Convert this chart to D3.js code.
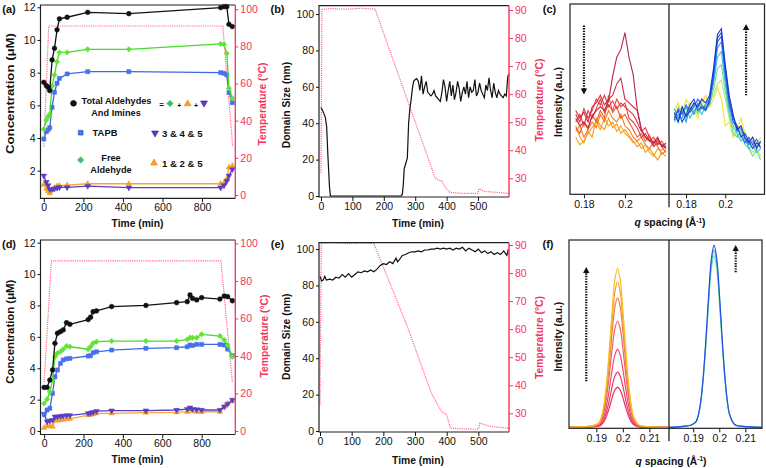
<!DOCTYPE html>
<html><head><meta charset="utf-8">
<script src="https://cdn.jsdelivr.net/npm/d3@7"></script>
<style>
body{margin:0;background:#fff;}
svg{display:block;font-family:"Liberation Sans",Arial,Helvetica,sans-serif;}
</style></head><body>
<svg id="fig" width="766" height="468"></svg>
<script>
// ================= DATA =================
// (a) concentrations vs time
const timeA   = [0,13,22,30,42,54,67,79,118,222,430,894,911,925,936,953];
const totalA  = [7.41,7.2,7.1,6.9,8.78,9.49,10.62,11.29,11.39,11.69,11.61,11.98,12.04,12.04,10.96,10.82];
const freeA   = [4.53,5.1,5.3,5.45,7.18,7.86,8.67,9.24,9.24,9.43,9.43,9.76,9.73,9.18,7.04,6.43];
const tapbA   = [3.94,4.39,4.5,4.63,5.88,6.8,7.35,7.65,7.92,8.06,8.06,8.0,7.96,7.86,6.78,6.16];
const s125A   = [1.15,0.88,0.75,0.62,0.82,0.95,1.05,1.08,1.12,1.2,1.2,1.2,1.25,1.49,2.2,2.3];
const s345A   = [1.69,1.3,1.1,0.86,0.85,0.9,0.95,0.98,0.98,1.06,0.96,0.96,1.1,1.37,1.69,2.08];
const tempTimeA = [0,25,905,955];
const tempA     = [26,91,91,26];

// (d) concentrations vs time
const timeD  = [0,15,29,43,55,68,83,97,114,131,224,236,249,266,343,517,673,727,741,754,775,800,893,915,932,956];
const totalD = [2.78,2.78,3.25,3.89,5.59,6.23,6.33,6.44,6.9,6.8,7.1,7.25,7.6,7.65,7.93,8.0,8.18,8.24,8.67,8.45,8.35,8.5,8.41,8.6,8.56,8.3];
const freeD  = [1.76,2.02,2.5,3.25,4.74,4.95,5.06,5.21,5.42,5.37,5.21,5.37,5.6,5.69,5.73,5.73,5.73,5.84,5.95,5.95,5.95,6.16,6.05,5.8,5.48,4.74];
const tapbD  = [1.06,1.34,1.45,2.4,3.46,3.89,4.31,4.53,4.6,4.63,4.78,4.8,4.99,5.05,5.16,5.27,5.31,5.37,5.48,5.45,5.52,5.52,5.52,5.48,5.22,4.8];
const s345D  = [1.08,0.6,0.66,0.7,0.91,0.92,0.95,0.97,0.99,1.0,1.13,1.15,1.2,1.27,1.3,1.3,1.34,1.4,1.49,1.4,1.38,1.34,1.34,1.55,1.72,1.98];
const s125D  = [0.21,0.32,0.32,0.28,0.66,0.68,0.7,0.73,0.76,0.78,1.02,1.05,1.08,1.13,1.13,1.17,1.19,1.23,1.4,1.27,1.23,1.23,1.23,1.55,1.76,1.91];
const tempTimeD = [0,37,898,956];
const tempD     = [26,90.7,90.7,26];

const concTicks = [2,4,6,8,10,12];
const concTicksD = [0,2,4,6,8,10,12];
const timeTicksAD = [0,200,400,600,800];
const tempTicksAD = [0,20,40,60,80,100];

// (b) domain size vs time
const timeB = [0,5,10,14,18,22,27,30,60,100,150,200,255,259,262,265,270,275,279,283,287,291,295,
  300,305,310,315,320,325,330,335,340,345,350,355,360,365,370,375,380,385,390,395,400,405,410,415,420,425,430,435,440,445,450,455,460,465,470,475,480,485,490,495,500,505,510,515,520,525,530,535,540,545,550,555,560,565,570,575,580,585,590,595,600];
const sizeB = [48.7,47,45,43,38,22,5,0,0,0,0,0,0,1,6,15,18,21,40,48,53,59,63,
  64,64.5,63,58,66,56,60,63,57,56,55,56,58,55,54,53,52,57,64,60,52,58,63,55,61,53,57,63,59,52,57,60,56,63,54,60,57,58,64,55,57,62,58,56,54,61,58,65,58,54,62,57,54,58,56,55,54,56,55,66,67];
const tempTimeB = [0,3,30,80,130,172,364,372,385,395,410,450,500,503,520,560,600];
const tempB     = [32,90.2,90.5,90.3,90.6,90.3,30,29.5,29,27,25,24.6,24.6,26.3,25.3,25,24.6];

// (e) domain size vs time
const timeE = [0,5,10,15,20,30,40,50,60,70,80,90,100,110,120,130,140,150,160,170,180,190,200,210,220,230,240,245,250,
  260,270,280,290,300,310,320,330,340,350,360,370,380,390,400,410,420,430,440,450,460,470,480,490,500,510,520,530,540,550,560,570,580,590,595];
const sizeE = [85,82.5,83,85,83,83.5,83,84.5,84,86,84.5,86.5,84.5,86,87.5,87,88,87.5,88.5,87.5,89,91,92,91.5,93,92,95,93,94,
  96.5,97,98,98.5,98.5,99,98.5,99.5,99.5,100,100,100.5,100,100.5,100,100.5,99.5,100.5,100,101,99,100.5,99.5,98.5,100,98,99,97.5,98.5,97,98,97,99,96.5,100];
const tempTimeE = [0,4,40,90,140,170,274,352,384,400,412,450,500,505,540,570,600];
const tempE     = [33,90.6,90.8,90.5,90.7,90.5,61.5,37.1,30.6,29.5,24.7,24.5,24.4,26.5,25.3,25,24.6];

const sizeTicks = [0,20,40,60,80,100];
const timeTicksBE = [0,100,200,300,400,500];
const tempTicksBE = [30,40,50,60,70,80,90];

// (c) in-situ scattering (noisy)
const qCL = [0.176,0.178,0.180,0.182,0.184,0.186,0.188,0.190,0.192,0.194,0.196,0.198,0.200,0.202,0.204,0.206,0.208,0.210,0.212,0.214,0.216,0.218,0.220];
const cLeft = [
  [30,26,28,32,35,38,34,40,36,38,33,36,32,30,27,28,24,26,22,20,24,23,26],
  [36,30,27,33,30,40,36,34,40,35,37,32,34,31,28,25,27,22,24,21,18,22,20],
  [33,36,30,34,38,35,42,38,44,40,38,42,36,34,30,28,30,26,24,28,25,21,23],
  [35,32,38,34,42,38,44,40,52,43,46,40,42,38,34,30,32,28,31,26,29,25,22],
  [38,42,36,44,40,45,50,43,47,44,50,46,48,40,38,35,30,32,28,30,26,28,24],
  [42,38,45,40,44,50,47,52,46,49,45,48,46,44,42,38,33,35,30,27,28,26,25],
  [44,40,43,38,46,48,52,47,50,52,58,61,50,48,46,44,34,30,29,25,27,26,24],
  [40,36,38,35,41,44,46,44,49,62,72,76,85,72,63,45,34,30,28,27,30,25,27]
];
const qCR = [0.174,0.176,0.178,0.180,0.182,0.184,0.186,0.188,0.190,0.192,0.194,0.196,0.198,0.200,0.202,0.204,0.206,0.208,0.210,0.212,0.214,0.216,0.218];
const cRight = [
  [44,48,42,50,46,44,40,48,52,46,50,56,50,36,38,30,34,40,32,28,30,26,30],
  [40,46,44,42,48,45,42,50,46,48,52,58,60,50,40,34,30,33,28,25,22,24,20],
  [42,38,45,40,44,47,43,45,44,47,55,66,68,54,42,32,30,34,26,24,20,23,18],
  [38,42,40,46,40,44,46,42,46,48,58,72,75,58,44,36,32,28,30,24,26,22,24],
  [45,40,44,38,46,42,48,45,47,50,60,77,80,62,46,40,33,35,29,26,28,25,27],
  [39,45,42,47,43,46,50,47,45,48,62,80,83,64,48,38,35,31,27,30,26,29,24],
  [40,44,38,42,47,50,44,46,44,50,64,82,85,66,50,40,36,30,32,28,24,27,25],
  [43,38,46,41,44,48,46,50,48,52,66,84,87,68,52,42,34,36,30,27,30,24,28]
];

// (f) ex-situ scattering (smooth)
const qF = [0.180,0.186,0.189,0.191,0.192,0.193,0.194,0.195,0.196,0.197,0.198,0.199,0.200,0.201,0.202,0.203,0.204,0.206,0.209,0.2175];
const fLeft = [
  [1.7,1.8,2.0,2.3,3.2,5.0,8.2,12.5,17.4,21.3,22.8,21.3,17.4,12.5,8.2,5.0,3.2,2.0,1.8,1.7],
  [1.7,1.8,2.0,2.6,3.7,6.3,10.6,16.6,23.3,28.6,30.7,28.6,23.3,16.6,10.6,6.3,3.7,2.1,1.8,1.7],
  [1.7,1.9,2.2,2.9,4.6,8.1,14.2,22.7,32.1,39.7,42.6,39.7,32.1,22.7,14.2,8.1,4.6,2.3,1.9,1.7],
  [1.7,2.0,2.4,3.4,5.6,10.5,18.8,30.4,43.2,53.5,57.5,53.5,43.2,30.4,18.8,10.5,5.6,2.5,2.0,1.7],
  [1.7,2.0,2.5,3.7,6.5,12.4,22.5,36.6,52.2,64.8,69.6,64.8,52.2,36.6,22.5,12.4,6.5,2.7,2.0,1.7],
  [1.7,2.1,2.6,4.0,7.0,13.7,25.1,41.0,58.5,72.7,78.1,72.7,58.5,41.0,25.1,13.7,7.0,2.8,2.1,1.7],
  [1.7,2.1,2.7,4.2,7.5,14.8,27.2,44.6,63.7,79.2,85.1,79.2,63.7,44.6,27.2,14.8,7.5,3.0,2.1,1.7]
];
const fRight = [
  [1.7,2.2,2.8,4.4,8.0,15.8,29.2,48.0,68.7,85.3,91.7,85.3,68.7,48.0,29.2,15.8,8.0,3.1,2.2,1.7],
  [1.7,2.2,2.8,4.5,8.2,16.3,30.2,49.5,70.9,88.1,94.7,88.1,70.9,49.5,30.2,16.3,8.2,3.1,2.2,1.7],
  [1.7,2.2,2.8,4.6,8.4,16.7,31.0,50.8,72.8,90.5,97.3,90.5,72.8,50.8,31.0,16.7,8.4,3.1,2.2,1.7]
];
const qTicksC = [0.18,0.2];
const qTicksF = [0.19,0.2,0.21];

// ================= STYLE =================
const FONT = '"Liberation Sans",Arial,Helvetica,sans-serif';
const RED = '#f2335d', PINK = '#ff6a88';
const svg = d3.select('#fig');

function styleAxis(sel, color, fs){
  sel.select('.domain').remove();
  sel.selectAll('.tick line').attr('stroke', color).attr('stroke-width', 1);
  sel.selectAll('.tick text').attr('fill', color).attr('font-size', fs || 10).attr('font-family', FONT);
}
function vText(x, y, txt, opts){
  const t = svg.append('text').attr('transform', `translate(${x},${y}) rotate(-90)`)
    .attr('text-anchor','middle').attr('dy','0.35em')
    .attr('font-size', opts.fs || 10.3).attr('font-weight','bold').attr('fill', opts.color || '#111').text(txt);
  if (opts.len) t.attr('textLength', opts.len).attr('lengthAdjust','spacingAndGlyphs');
  return t;
}
function hText(x, y, txt, opts){
  return svg.append('text').attr('x',x).attr('y',y).attr('text-anchor', opts.anchor || 'middle')
    .attr('font-size', opts.fs || 10.3).attr('font-weight', opts.bold === false ? 'normal' : 'bold')
    .attr('fill', opts.color || '#111').text(txt);
}

// ================= CONCENTRATION PANELS =================
function concPanel(c){
  const g = svg.append('g');
  const x = d3.scaleLinear().domain(c.xDom).range([c.L, c.R]);
  const y = d3.scaleLinear().domain(c.yDom).range([c.B, c.T]);
  const yt = d3.scaleLinear().domain(c.tDom).range([c.B, c.T]);
  g.append('path').datum(d3.zip(c.tempTime, c.temp))
    .attr('d', d3.line().x(d=>x(d[0])).y(d=>yt(d[1])))
    .attr('fill','none').attr('stroke',PINK).attr('stroke-width',1.2).attr('stroke-dasharray','1.2,1');
  const series = [
    {v:c.s125, line:'#f9a632', fill:'#f9a02a', shape:'tri'},
    {v:c.s345, line:'#5a3cc4', fill:'#5a3cc8', shape:'tridown'},
    {v:c.tapb, line:'#3f66e8', fill:'#4670ee', shape:'sq'},
    {v:c.free, line:'#44dd2a', fill:'#62e436', shape:'dia'},
    {v:c.total, line:'#111', fill:'#111', shape:'circ'}
  ];
  const shapes = {
    tri: d3.symbol().type(d3.symbolTriangle).size(14)(),
    tridown: d3.symbol().type(d3.symbolTriangle).size(14)(),
    sq: d3.symbol().type(d3.symbolSquare).size(17)(),
    dia: d3.symbol().type(d3.symbolSquare).size(15)(),
    circ: d3.symbol().type(d3.symbolCircle).size(18)()
  };
  const rots = {tri:0, tridown:180, sq:0, dia:45, circ:0};
  series.forEach(s=>{
    const pts = d3.zip(c.time, s.v);
    g.append('path').datum(pts).attr('d', d3.line().x(d=>x(d[0])).y(d=>y(d[1])))
      .attr('fill','none').attr('stroke', s.line).attr('stroke-width',1.3);
    g.selectAll(null).data(pts).enter().append('path')
      .attr('d', shapes[s.shape])
      .attr('transform', d=>`translate(${x(d[0])},${y(d[1])}) rotate(${rots[s.shape]})`)
      .attr('fill', s.fill).attr('stroke', s.fill).attr('stroke-width',0.5);
  });
  g.append('path').attr('d', `M${c.R},${c.T}H${c.L}V${c.B}H${c.R}`).attr('fill','none').attr('stroke','#222').attr('stroke-width',1.2);
  g.append('line').attr('x1',c.R).attr('x2',c.R).attr('y1',c.T).attr('y2',c.B).attr('stroke',RED).attr('stroke-width',1.3);
  g.append('g').attr('transform',`translate(${c.L},0)`)
    .call(d3.axisLeft(y).tickValues(c.yTicks).tickSize(3).tickPadding(2).tickFormat(d3.format('d'))).call(s=>styleAxis(s,'#111',10.5));
  g.append('g').attr('transform',`translate(0,${c.B})`)
    .call(d3.axisBottom(x).tickValues(c.xTicks).tickSize(4).tickPadding(1.5).tickFormat(d3.format('d'))).call(s=>styleAxis(s,'#111',10.5));
  g.append('g').attr('transform',`translate(${c.R},0)`)
    .call(d3.axisRight(yt).tickValues(c.tTicks).tickSize(3).tickPadding(2).tickFormat(d3.format('d'))).call(s=>styleAxis(s,RED,10.5));
}

concPanel({L:40.5,R:235.3,T:5,B:198.3,xDom:[-16.6,968],yDom:[0.31,12.14],tDom:[-1.8,102.3],
  time:timeA,total:totalA,free:freeA,tapb:tapbA,s125:s125A,s345:s345A,tempTime:tempTimeA,temp:tempA,
  yTicks:concTicks,xTicks:timeTicksAD,tTicks:tempTicksAD});
concPanel({L:40.5,R:235.3,T:240,B:434.5,xDom:[-18.3,971],yDom:[-0.22,12.17],tDom:[-1.86,101.8],
  time:timeD,total:totalD,free:freeD,tapb:tapbD,s125:s125D,s345:s345D,tempTime:tempTimeD,temp:tempD,
  yTicks:concTicksD,xTicks:timeTicksAD,tTicks:tempTicksAD});

// legend (a)
(function(){
  const g = svg.append('g');
  const mk = (type,size,rot,x,y,fill,stroke)=>g.append('path').attr('d',d3.symbol().type(type).size(size)())
    .attr('transform',`translate(${x},${y}) rotate(${rot})`).attr('fill',fill).attr('stroke',stroke).attr('stroke-width',0.7);
  mk(d3.symbolCircle,26,0,73.5,103.3,'#111','#111');
  hText(116.5,104,'Total Aldehydes',{fs:9.2});
  hText(116,115.6,'And Imines',{fs:9.2});
  hText(161.7,106.5,'=',{fs:8});
  mk(d3.symbolSquare,22,45,170,103.5,'#3bb58e','#78e040');
  hText(179.3,107.5,'+',{fs:7});
  mk(d3.symbolTriangle,20,0,187.7,103.8,'#f9a02a','#f08a18');
  hText(196,107.5,'+',{fs:7});
  mk(d3.symbolTriangle,20,180,204,103,'#5a3cc8','#3f2aa0');
  mk(d3.symbolSquare,22,0,80.7,132.7,'#4a72f0','#2f55d8');
  hText(105,136.3,'TAPB',{fs:9.4});
  mk(d3.symbolTriangle,20,180,155,133,'#5a3cc8','#3f2aa0');
  hText(162,136.8,'3 & 4 & 5',{fs:9.6,anchor:'start'});
  mk(d3.symbolSquare,22,45,80.7,160,'#3bb58e','#78e040');
  hText(111,161.2,'Free',{fs:9.2});
  hText(111,172.8,'Aldehyde',{fs:9.2});
  mk(d3.symbolTriangle,20,0,154,163,'#f9a02a','#f08a18');
  hText(162,166.8,'1 & 2 & 5',{fs:9.6,anchor:'start'});
})();

// ================= DOMAIN SIZE PANELS =================
function sizePanel(c){
  const g = svg.append('g');
  const x = d3.scaleLinear().domain(c.xDom).range([c.L, c.R]);
  const y = d3.scaleLinear().domain(c.yDom).range([c.B, c.T]);
  const yt = d3.scaleLinear().domain(c.tDom).range([c.B, c.T]);
  g.append('path').datum(d3.zip(c.tempTime, c.temp))
    .attr('d', d3.line().x(d=>x(d[0])).y(d=>yt(d[1])))
    .attr('fill','none').attr('stroke',PINK).attr('stroke-width',1.2).attr('stroke-dasharray','1.2,1');
  g.append('path').datum(d3.zip(c.time, c.size))
    .attr('d', d3.line().x(d=>x(d[0])).y(d=>y(d[1])))
    .attr('fill','none').attr('stroke','#111').attr('stroke-width',1.2);
  g.append('path').attr('d', `M${c.R},${c.T}H${c.L}V${c.B}H${c.R}`).attr('fill','none').attr('stroke','#222').attr('stroke-width',1.2);
  g.append('line').attr('x1',c.R).attr('x2',c.R).attr('y1',c.T).attr('y2',c.B).attr('stroke',RED).attr('stroke-width',1.4);
  g.append('g').attr('transform',`translate(${c.L},0)`)
    .call(d3.axisLeft(y).tickValues(sizeTicks).tickSize(3).tickPadding(2).tickFormat(d3.format('d'))).call(s=>styleAxis(s,'#111',10.5));
  g.append('g').attr('transform',`translate(0,${c.B})`)
    .call(d3.axisBottom(x).tickValues(timeTicksBE).tickSize(4).tickPadding(1.5).tickFormat(d3.format('d'))).call(s=>styleAxis(s,'#111',10.5));
  g.append('g').attr('transform',`translate(${c.R},0)`)
    .call(d3.axisRight(yt).tickValues(tempTicksBE).tickSize(4).tickPadding(2).tickFormat(d3.format('d'))).call(s=>styleAxis(s,RED,10.5));
}
sizePanel({L:319,R:509,T:5.7,B:197,xDom:[-6.4,598.7],yDom:[-0.55,104.6],tDom:[23.33,91.53],
  time:timeB,size:sizeB,tempTime:tempTimeB,temp:tempB});
sizePanel({L:319,R:509,T:242.7,B:432,xDom:[-3.2,596.8],yDom:[-0.55,103.5],tDom:[23.36,90.82],
  time:timeE,size:sizeE,tempTime:tempTimeE,temp:tempE});

// ================= SCATTERING PANELS =================
function scatPanel(c){
  const g = svg.append('g');
  const y = d3.scaleLinear().domain(c.yDom).range([c.B, c.T]);
  const parts = [
    {L:c.L, R:c.M, dom:c.domL, q:c.qL, curves:c.left, colors:c.colL, id:c.id+'l'},
    {L:c.M, R:c.R, dom:c.domR, q:c.qR, curves:c.right, colors:c.colR, id:c.id+'r'}
  ];
  parts.forEach(p=>{
    const x = d3.scaleLinear().domain(p.dom).range([p.L, p.R]);
    p.x = x;
    svg.append('clipPath').attr('id',p.id).append('rect').attr('x',p.L).attr('y',c.T).attr('width',p.R-p.L).attr('height',c.B-c.T);
    const cg = g.append('g').attr('clip-path',`url(#${p.id})`);
    p.curves.forEach((v,i)=>{
      cg.append('path').datum(d3.zip(p.q, v))
        .attr('d', d3.line().curve(c.smooth ? d3.curveCatmullRom.alpha(0.5) : d3.curveLinear).x(d=>x(d[0])).y(d=>y(d[1])))
        .attr('fill','none').attr('stroke', p.colors[i]).attr('stroke-width', c.lw);
    });
    g.append('g').attr('transform',`translate(0,${c.B})`)
      .call(d3.axisBottom(x).tickValues(c.ticks).tickSize(4).tickPadding(2).tickFormat(d=>String(+d.toFixed(2))))
      .call(s=>styleAxis(s,'#111',10.5));
  });
  g.append('rect').attr('x',c.L).attr('y',c.T).attr('width',c.R-c.L).attr('height',c.B-c.T)
    .attr('fill','none').attr('stroke','#222').attr('stroke-width',1.2);
  g.append('line').attr('x1',c.M).attr('x2',c.M).attr('y1',c.T).attr('y2',c.B+13).attr('stroke','#222').attr('stroke-width',1.3);
  c.arrows.forEach(a=>{
    const p = parts[a.side];
    const ax = p.x(a.q), y0 = y(a.from), y1 = y(a.to);
    const dir = y1 < y0 ? -1 : 1;
    g.append('line').attr('x1',ax).attr('x2',ax).attr('y1',y0).attr('y2',y1 - dir*4)
      .attr('stroke','#111').attr('stroke-width',2.2).attr('stroke-dasharray','1.4,1.2');
    g.append('path').attr('d',`M${ax-3.2},${y1-dir*5}L${ax+3.2},${y1-dir*5}L${ax},${y1+dir*1}Z`).attr('fill','#111');
  });
}
const colCL = ['#f8a81a','#f7981c','#f47a22','#f05a2a','#e8443a','#e23846','#cf2e4c','#b42848'];
const colCR = ['#ece23a','#c8e85a','#66dc98','#36c6d8','#2e9ae6','#2a68ea','#2048e0','#1a34cc'];
const colFL = ['#e5305e','#e83c66','#ec4c6a','#f0606a','#f27a48','#f5a02e','#f6c020'];
const colFR = ['#7ee290','#38c8d6','#2c4ee0'];

scatPanel({id:'c',L:570,M:669,R:764.5,T:4,B:194.3,yDom:[0,100],domL:[0.1732,0.2215],domR:[0.1713,0.22],
  qL:qCL,qR:qCR,left:cLeft,right:cRight,colL:colCL,colR:colCR,ticks:qTicksC,smooth:false,lw:1.1,
  arrows:[{side:0,q:0.18,from:88.7,to:53},{side:1,q:0.2106,from:52,to:89}]});
scatPanel({id:'f',L:569,M:669,R:762,T:240,B:428.3,yDom:[1.2,100],domL:[0.1797,0.2174],domR:[0.1807,0.2164],
  qL:qF,qR:qF,left:fLeft,right:fRight,colL:colFL,colR:colFR,ticks:qTicksF,smooth:true,lw:1.2,
  arrows:[{side:0,q:0.1862,from:25.9,to:85.3},{side:1,q:0.2063,from:83.1,to:96.9}]});

// ================= TEXT LABELS =================
hText(9,12.5,'(a)',{fs:11});
hText(277.5,12.5,'(b)',{fs:11});
hText(549.5,12.5,'(c)',{fs:11});
hText(9,248,'(d)',{fs:11});
hText(277.5,248,'(e)',{fs:11});
hText(548,248,'(f)',{fs:11});

vText(10,93.5,'Concentration (μM)',{len:121});
vText(10,331.7,'Concentration (μM)',{len:104});
vText(262.5,104,'Temperature (°C)',{color:RED});
vText(264,336,'Temperature (°C)',{color:RED});
hText(137.5,226.5,'Time (min)',{});
hText(137.5,463.3,'Time (min)',{});

vText(286.7,105,'Domain Size (nm)',{});
vText(286.7,336.7,'Domain Size (nm)',{});
vText(539.3,100,'Temperature (°C)',{color:RED});
vText(539.3,337.5,'Temperature (°C)',{color:RED});
hText(418,226.5,'Time (min)',{});
hText(418,463.8,'Time (min)',{});

vText(558,102,'Intensity (a.u.)',{});
vText(558,336.7,'Intensity (a.u.)',{});
function qTitle(x,y){
  const t = svg.append('text').attr('x',x).attr('y',y).attr('text-anchor','middle')
    .attr('font-size',10.3).attr('font-weight','bold').attr('fill','#111');
  t.append('tspan').attr('font-style','italic').text('q');
  t.append('tspan').text(' spacing (Å');
  t.append('tspan').attr('dy',-3.5).attr('font-size',6.5).text('-1');
  t.append('tspan').attr('dy',3.5).text(')');
}
qTitle(670,226.3);
qTitle(671,464.5);
</script>
</body></html>
